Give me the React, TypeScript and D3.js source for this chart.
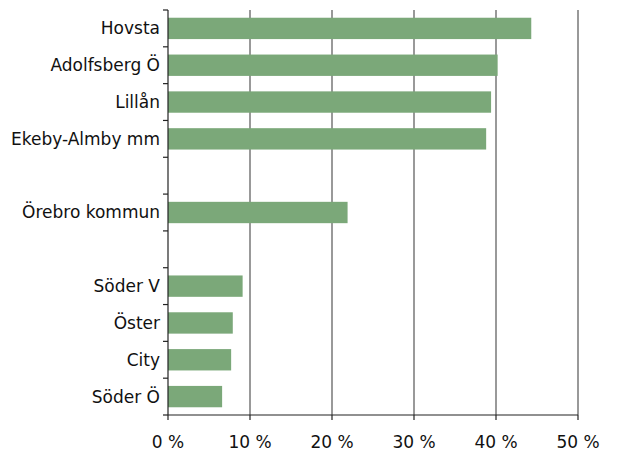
import React, { useEffect, useRef } from "react";
import * as d3 from "d3";

// empty strings are spacer rows, as in the original chart
const categories = [
  "Hovsta",
  "Adolfsberg Ö",
  "Lillån",
  "Ekeby-Almby mm",
  "",
  "Örebro kommun",
  " ",
  "Söder V",
  "Öster",
  "City",
  "Söder Ö",
];
const values = [44.3, 40.2, 39.4, 38.8, null, 21.9, null, 9.1, 7.9, 7.7, 6.6];
const xTicks = [0, 10, 20, 30, 40, 50];

const App = () => {
  const ref = useRef<SVGSVGElement>(null);

  useEffect(() => {
    const svg = d3.select(ref.current);
    svg.selectAll("*").remove();

    const margin = { top: 10, right: 39, bottom: 40, left: 168 };
    const W = 617, H = 455;
    const width = W - margin.left - margin.right;
    const height = H - margin.top - margin.bottom;
    const font = "'DejaVu Sans', sans-serif";

    const x = d3.scaleLinear().domain([0, 50]).range([0, width]);
    const y = d3.scaleBand().domain(categories).range([0, height]).paddingInner(0.42).paddingOuter(0.21);
    const step = y.step();

    const g = svg.append("g").attr("transform", `translate(${margin.left},${margin.top})`);

    // vertical gridlines
    g.selectAll(".grid")
      .data(xTicks.slice(1))
      .enter()
      .append("line")
      .attr("x1", d => x(d))
      .attr("x2", d => x(d))
      .attr("y1", 0)
      .attr("y2", height)
      .attr("stroke", "#555")
      .attr("stroke-width", 1.2);

    // bars
    g.selectAll(".bar")
      .data(categories.map((c, i) => ({ c, v: values[i] })).filter(d => d.v != null))
      .enter()
      .append("rect")
      .attr("x", 0)
      .attr("y", d => y(d.c)!)
      .attr("width", d => x(d.v as number))
      .attr("height", y.bandwidth())
      .attr("fill", "#7ba879");

    // y axis line + ticks at band boundaries
    g.append("line").attr("x1", 0).attr("x2", 0).attr("y1", 0).attr("y2", height)
      .attr("stroke", "#222").attr("stroke-width", 1.2);
    g.selectAll(".ytick")
      .data(d3.range(categories.length + 1))
      .enter()
      .append("line")
      .attr("x1", -5).attr("x2", 0)
      .attr("y1", i => i * step).attr("y2", i => i * step)
      .attr("stroke", "#222").attr("stroke-width", 1.2);

    // category labels
    g.selectAll(".ylabel")
      .data(categories)
      .enter()
      .append("text")
      .attr("x", -8)
      .attr("y", d => y(d)! + y.bandwidth() / 2)
      .attr("dy", "0.35em")
      .attr("text-anchor", "end")
      .style("font-family", font)
      .style("font-size", "17px")
      .attr("fill", "#111")
      .text(d => d.trim());

    // x axis
    g.append("line").attr("x1", 0).attr("x2", width).attr("y1", height).attr("y2", height)
      .attr("stroke", "#222").attr("stroke-width", 1.2);
    g.selectAll(".xtick")
      .data(xTicks)
      .enter()
      .append("line")
      .attr("x1", d => x(d)).attr("x2", d => x(d))
      .attr("y1", height).attr("y2", height + 5)
      .attr("stroke", "#222").attr("stroke-width", 1.2);
    g.selectAll(".xlabel")
      .data(xTicks)
      .enter()
      .append("text")
      .attr("x", d => x(d))
      .attr("y", height + 33)
      .attr("text-anchor", "middle")
      .style("font-family", font)
      .style("font-size", "17px")
      .attr("fill", "#111")
      .text(d => `${d} %`);
  }, []);

  return <svg ref={ref} width="617" height="455" style={{ display: "block", position: "absolute", left: 0, top: 0 }}></svg>;
};

export default App;
